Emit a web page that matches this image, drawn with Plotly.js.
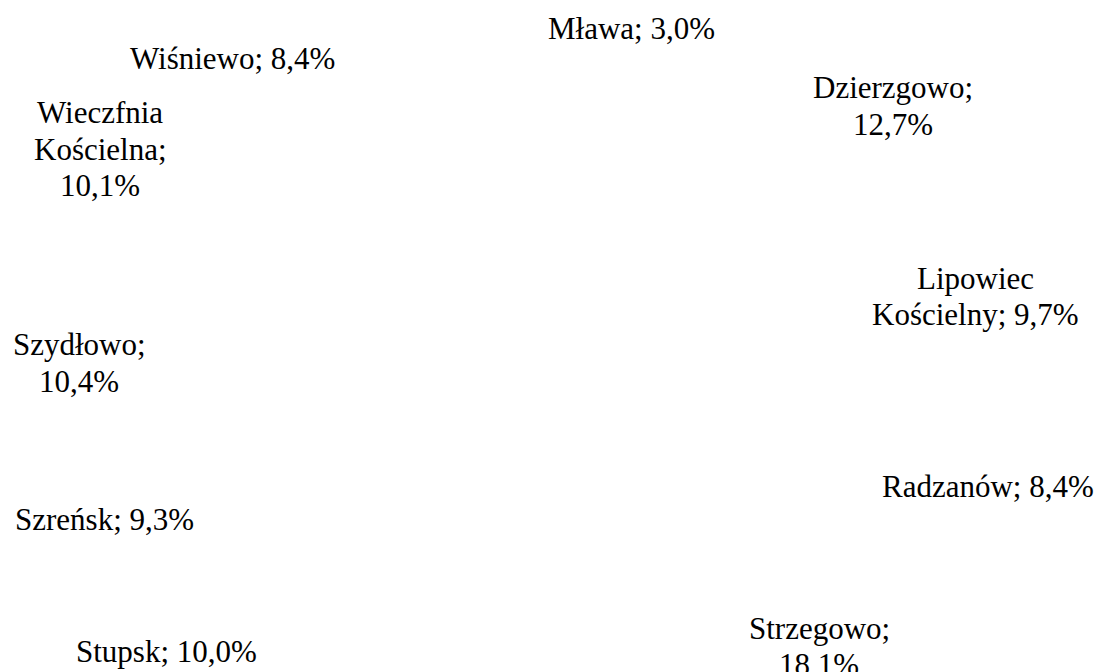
<!DOCTYPE html>
<html>
<head>
<meta charset="utf-8">
<script src="https://cdn.plot.ly/plotly-3.0.1.min.js"></script>
<style>
html,body{margin:0;padding:0;background:#fff;}
#chart{width:1100px;height:672px;}
</style>
</head>
<body>
<div id="chart"></div>
<script>
// Data
const categories = ["Mława", "Dzierzgowo", "Lipowiec Kościelny", "Radzanów", "Strzegowo", "Stupsk", "Szreńsk", "Szydłowo", "Wieczfnia Kościelna", "Wiśniewo"];
const shares = [3.0, 12.7, 9.7, 8.4, 18.1, 10.0, 9.3, 10.4, 10.1, 8.4];

// Layout of the data labels (pixel centres of each label block) and line-break style
// 0 = one line, 1 = value on new line, 2 = each word on its own line, 3 = first word alone
const labelWrap = [0, 1, 3, 0, 1, 0, 0, 1, 2, 0];
const labelPos = [[631, 29], [893, 106], [975, 296], [988, 486], [819, 646], [166, 651], [104, 519], [79, 363], [100, 149], [232, 58]];
const LINE_GAP = 36;

const W = 1100, H = 672;
function fmt(v) { return v.toFixed(1).replace('.', ',') + '%'; }
function labelLines(name, v, wrap) {
  if (wrap === 1) return [name + ';', fmt(v)];
  if (wrap === 2) { const p = name.split(' '); p[p.length - 1] += ';'; return p.concat([fmt(v)]); }
  if (wrap === 3) { const p = name.split(' '); return [p[0], p.slice(1).join(' ') + '; ' + fmt(v)]; }
  return [name + '; ' + fmt(v)];
}

const FONT = 'Liberation Serif';

const trace = {
  type: 'pie',
  labels: categories,
  values: shares,
  sort: false,
  direction: 'clockwise',
  rotation: 0,
  textinfo: 'none',
  marker: { colors: categories.map(() => 'rgba(255,255,255,0)'), line: { width: 0 } },
  domain: { x: [0.25, 0.75], y: [0.1, 0.9] },
  showlegend: false,
  hoverinfo: 'label+percent'
};

const annotations = [];
categories.forEach((c, i) => {
  const lines = labelLines(c, shares[i], labelWrap[i]);
  const n = lines.length;
  lines.forEach((ln, j) => {
    const py = labelPos[i][1] + (j - (n - 1) / 2) * LINE_GAP;
    annotations.push({
      xref: 'paper', yref: 'paper',
      x: labelPos[i][0] / W, y: 1 - py / H,
      xanchor: 'center', yanchor: 'middle',
      text: ln,
      showarrow: false,
      align: 'center',
      font: { family: FONT, size: 31, color: '#000' }
    });
  });
});

const layout = {
  width: W, height: H,
  margin: { l: 0, r: 0, t: 0, b: 0 },
  paper_bgcolor: '#fff',
  plot_bgcolor: '#fff',
  showlegend: false,
  annotations: annotations
};

Plotly.newPlot('chart', [trace], layout, { displayModeBar: false, staticPlot: true });
</script>
</body>
</html>
